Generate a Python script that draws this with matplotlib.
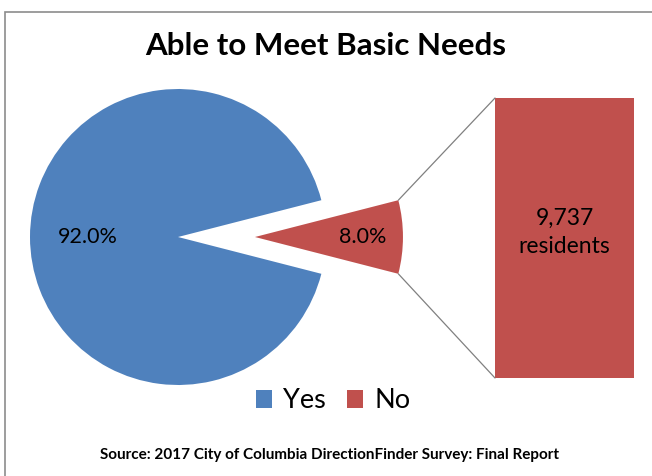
import numpy as np
import matplotlib.pyplot as plt
from matplotlib.patches import ConnectionPatch, Rectangle

plt.rcParams['font.family'] = ['Lato', 'DejaVu Sans']

# survey answers
labels = ["Yes", "No"]
shares = [92.0, 8.0]
no_residents = 9737
colors = ["#4F81BD", "#C0504D"]

fig = plt.figure(figsize=(6.52, 4.76), dpi=100)

# chart frame (runs off the right and bottom edges)
fig.patches.append(Rectangle((5 / 652, -0.05), 1.1, 1 - 12 / 476 + 0.05,
                             transform=fig.transFigure, fill=False,
                             edgecolor="#8C8C8C", linewidth=1.2))

# pie axes covers the whole figure, 1 unit = 148 px
ax = fig.add_axes([0, 0, 1, 1])

half = shares[1] / 100 * 360 / 2
wedges, texts, autotexts = ax.pie(
    shares, colors=colors, startangle=half, explode=[0, 0.52],
    autopct="%.1f%%", pctdistance=0.73, radius=1, center=(0, 0),
    wedgeprops=dict(linewidth=0), textprops=dict(fontsize=15.5, color="black"),
    frame=True)
ax.set_xlim(-178 / 148, (652 - 178) / 148)
ax.set_ylim(-239 / 148, 237 / 148)
ax.set_aspect("auto")
ax.axis("off")

# the big slice label sits a bit closer to the centre
w0 = wedges[0]
mid = np.radians((w0.theta1 + w0.theta2) / 2)
autotexts[0].set_position((0.61 * np.cos(mid), 0.61 * np.sin(mid)))

fig.text(0.5, 1 - 46 / 476, "Able to Meet Basic Needs", ha="center", va="center",
         fontsize=22.5, fontweight="bold")

# bar for the "No" slice
bax = fig.add_axes([495 / 652, (476 - 378) / 476, 139 / 652, 280 / 476])
bax.bar([0], [no_residents], width=1, color=colors[1])
bax.set_xlim(-0.5, 0.5)
bax.set_ylim(0, no_residents)
bax.axis("off")
bax.text(0, no_residents * 0.52, f"{no_residents:,}\nresidents", ha="center",
         va="center", fontsize=16.5, linespacing=1.45)

# lines from the slice edge to the bar corners
w = wedges[1]
cx, cy = w.center
for ang, ycorner in [(w.theta2, no_residents), (w.theta1, 0)]:
    x = cx + w.r * np.cos(np.radians(ang))
    y = cy + w.r * np.sin(np.radians(ang))
    con = ConnectionPatch(xyA=(-0.5, ycorner), coordsA=bax.transData,
                          xyB=(x, y), coordsB=ax.transData,
                          color="#808080", linewidth=0.9)
    fig.add_artist(con)

fig.legend(wedges, labels, loc="center", bbox_to_anchor=(333 / 652, 1 - 401 / 476),
           ncol=2, frameon=False, fontsize=19.5, handlelength=0.6, handleheight=0.6,
           handletextpad=0.4, columnspacing=0.8)

fig.text(329 / 652, 1 - 455 / 476,
         "Source: 2017 City of Columbia DirectionFinder Survey: Final Report",
         ha="center", va="center", fontsize=11, fontweight="bold")

fig.savefig("out.png", dpi=100)
